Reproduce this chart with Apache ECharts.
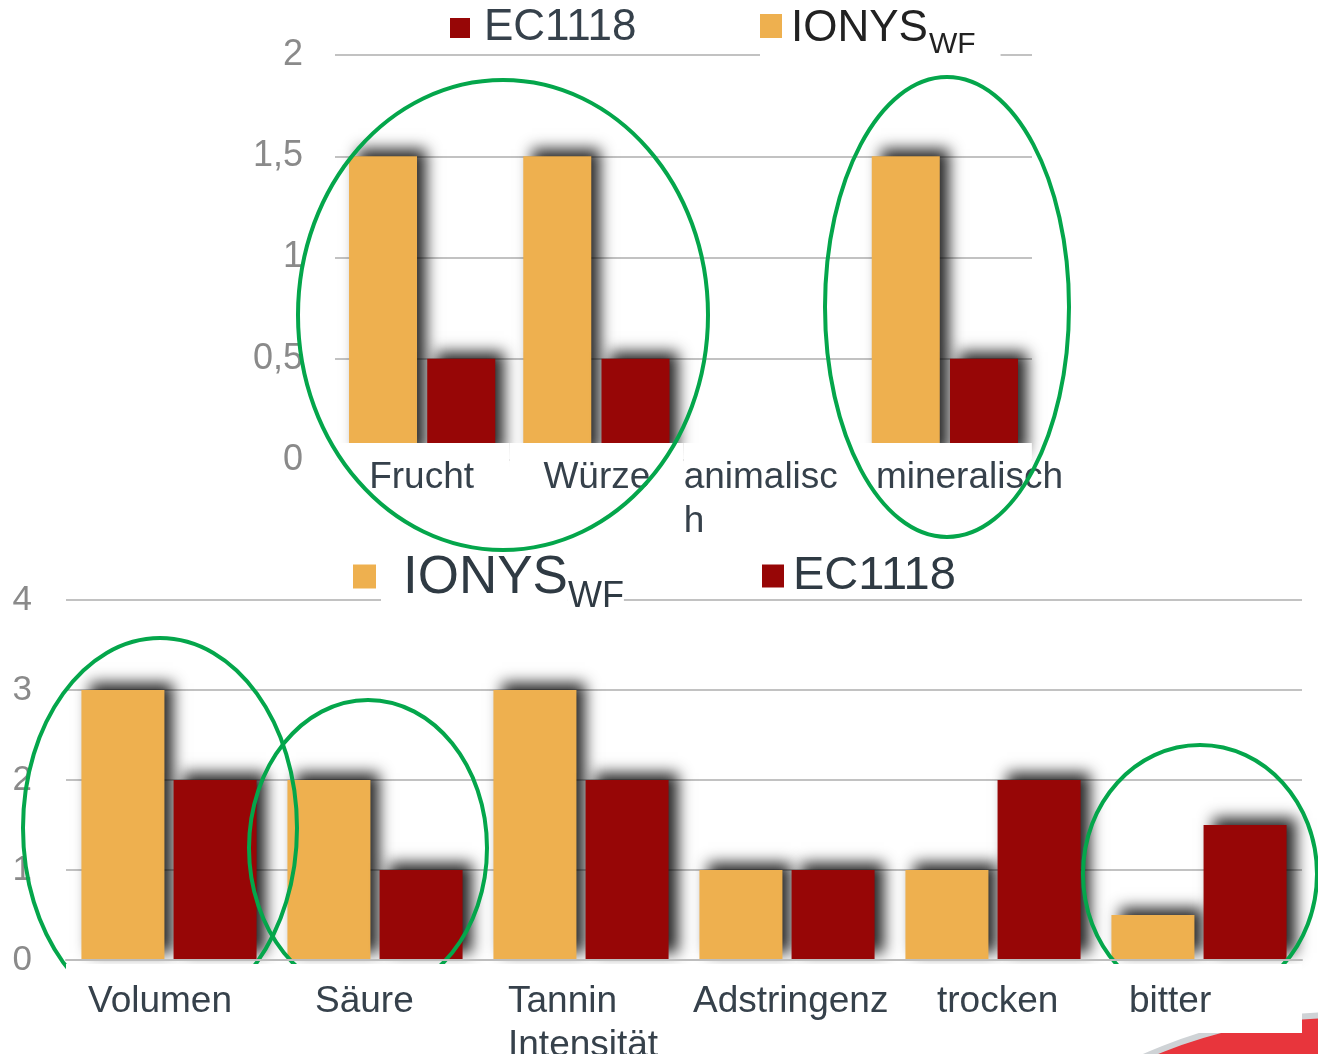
<!DOCTYPE html>
<html>
<head>
<meta charset="utf-8">
<script src="https://cdn.jsdelivr.net/npm/echarts@6/dist/echarts.min.js"></script>
<style>
  html, body { margin: 0; padding: 0; background: #fff; }
  #chart { width: 1318px; height: 1054px; }
</style>
</head>
<body>
<div id="chart"></div>
<script>
// Aroma panel (top)
const aromaCategories = ['Frucht', 'Würze', 'animalisch', 'mineralisch'];
const aromaIonys = [1.5, 1.5, 0, 1.5];
const aromaEc1118 = [0.5, 0.5, 0, 0.5];
const aromaTicks = [0, 0.5, 1, 1.5, 2];

// Mouthfeel panel (bottom)
const tasteCategories = ['Volumen', 'Säure', 'Tannin Intensität', 'Adstringenz', 'trocken', 'bitter'];
const tasteIonys = [3, 2, 3, 1, 1, 0.5];
const tasteEc1118 = [2, 1, 2, 1, 2, 1.5];
const tasteTicks = [0, 1, 2, 3, 4];

// Strain names
const strainA = 'IONYS';
const strainASub = 'WF';
const strainAName = strainA + ' ' + strainASub;
const strainB = 'EC1118';

// how long category names are split over lines
const labelBreaks = {
  'animalisch': ['animalisc', 'h'],
  'Tannin Intensität': ['Tannin', 'Intensität']
};

// left inset of each category text inside its white label box
const aromaLabelInset = [34, 34, 0, 18];
const tasteLabelInset = [22, 43, 30, 9, 47, 33];

const FONT = '"Liberation Sans", Arial, sans-serif';
const ORANGE = '#EEB04F';
const DARKRED = '#970606';
const LABEL_COLOR = '#36414b';
const TICK_COLOR = '#8a8a8a';
const GRID_LINE = '#c2c2c2';

const barShadow = {
  shadowBlur: 14,
  shadowColor: 'rgba(0,0,0,0.85)',
  shadowOffsetX: 9,
  shadowOffsetY: -7
};

// green hand-drawn highlight rings
const highlightRings = [
  { cx: 503, cy: 315, rx: 205, ry: 235 },
  { cx: 947, cy: 307, rx: 122, ry: 230 },
  { cx: 160, cy: 828, rx: 137, ry: 190 },
  { cx: 368, cy: 848, rx: 119, ry: 148 },
  { cx: 1200, cy: 874, rx: 117, ry: 129 }
];

const chart = echarts.init(document.getElementById('chart'), null, { renderer: 'canvas' });

function commaFormat(v) {
  return String(v).replace('.', ',');
}

function insetRich(insets) {
  const rich = {};
  insets.forEach((p, i) => {
    rich['t' + i] = {
      align: 'left', padding: [0, 0, 0, p],
      fontSize: 37, lineHeight: 44, fontFamily: FONT, color: LABEL_COLOR
    };
  });
  return rich;
}

function insetFormatter(v, i) {
  const lines = labelBreaks[v] || [v];
  return lines.map(line => '{t' + i + '|' + line + '}').join('\n');
}

const option = {
  animation: false,
  backgroundColor: '#fff',
  textStyle: { fontFamily: FONT },
  grid: [
    { left: 335, top: 55, width: 697, height: 405, outerBoundsMode: 'none', containLabel: false },
    { left: 66, top: 600, width: 1236, height: 360, outerBoundsMode: 'none', containLabel: false }
  ],
  legend: [
    {
      data: [strainB], left: 450, top: 2, padding: 0,
      icon: 'rect', itemWidth: 20, itemHeight: 20, selectedMode: false,
      textStyle: { fontSize: 44, lineHeight: 46, color: LABEL_COLOR, fontFamily: FONT, padding: [6, 0, 0, 9] }
    },
    {
      data: [strainAName], left: 760, top: -8, padding: [0, 25, 0, 0],
      backgroundColor: '#fff',
      icon: 'rect', itemWidth: 22, itemHeight: 24, selectedMode: false,
      formatter: () => '{main|' + strainA + '}{sub|' + strainASub + '}',
      textStyle: {
        rich: {
          main: { fontSize: 44, lineHeight: 44, color: '#222', fontFamily: FONT, padding: [15, 0, 9, 4] },
          sub: { fontSize: 30, lineHeight: 30, color: '#222', fontFamily: FONT, padding: [38, 0, 0, 1] }
        }
      }
    },
    {
      data: [strainAName], left: 353, top: 538, padding: 0,
      icon: 'rect', itemWidth: 23, itemHeight: 24, selectedMode: false,
      formatter: () => '{main|' + strainA + '}{sub|' + strainASub + '}',
      textStyle: {
        rich: {
          main: { fontSize: 53, lineHeight: 53, color: '#2f3a43', fontFamily: FONT, padding: [14, 0, 10, 22], backgroundColor: '#fff' },
          sub: { fontSize: 36, lineHeight: 36, color: '#2f3a43', fontFamily: FONT, padding: [41, 0, 0, 0], backgroundColor: '#fff' }
        }
      }
    },
    {
      data: [strainB], left: 762, top: 547, padding: 0,
      icon: 'rect', itemWidth: 22, itemHeight: 23, selectedMode: false,
      textStyle: { fontSize: 47, lineHeight: 50, color: '#2f3a43', fontFamily: FONT, padding: [8, 0, 0, 4] }
    }
  ],
  xAxis: [
    {
      type: 'category', gridIndex: 0, data: aromaCategories, z: 3,
      axisLine: { show: false }, axisTick: { show: false },
      axisLabel: {
        interval: 0, fontSize: 37, fontFamily: FONT, color: LABEL_COLOR, lineHeight: 44,
        margin: -17, padding: [13, 0, 7, 0], width: 174, backgroundColor: '#fff',
        formatter: insetFormatter,
        rich: insetRich(aromaLabelInset)
      }
    },
    {
      type: 'category', gridIndex: 1, data: tasteCategories, z: 20,
      axisLine: { show: true, lineStyle: { color: '#bdbdbd', width: 2 } },
      axisTick: { show: false },
      axisLabel: {
        interval: 0, fontSize: 37, fontFamily: FONT, color: LABEL_COLOR, lineHeight: 44,
        margin: 4, padding: [16, 0, 9, 0], width: 206, backgroundColor: '#fff',
        formatter: insetFormatter,
        rich: insetRich(tasteLabelInset)
      }
    }
  ],
  yAxis: [
    {
      type: 'value', gridIndex: 0,
      min: aromaTicks[0], max: aromaTicks[aromaTicks.length - 1], interval: aromaTicks[1] - aromaTicks[0],
      axisLine: { show: false }, axisTick: { show: false },
      axisLabel: { fontSize: 36, fontFamily: FONT, color: TICK_COLOR, margin: 32, formatter: commaFormat },
      splitLine: { show: true, lineStyle: { color: GRID_LINE, width: 2 } }
    },
    {
      type: 'value', gridIndex: 1,
      min: tasteTicks[0], max: tasteTicks[tasteTicks.length - 1], interval: tasteTicks[1] - tasteTicks[0],
      axisLine: { show: false }, axisTick: { show: false },
      axisLabel: { fontSize: 35, fontFamily: FONT, color: TICK_COLOR, margin: 34 },
      splitLine: { show: true, lineStyle: { color: GRID_LINE, width: 2 } }
    }
  ],
  series: [
    {
      name: strainAName, type: 'bar', xAxisIndex: 0, yAxisIndex: 0, data: aromaIonys,
      barWidth: 68, barGap: '15%', itemStyle: Object.assign({ color: ORANGE }, barShadow)
    },
    {
      name: strainB, type: 'bar', xAxisIndex: 0, yAxisIndex: 0, data: aromaEc1118,
      barWidth: 68, barGap: '15%', itemStyle: Object.assign({ color: DARKRED }, barShadow)
    },
    {
      name: strainAName, type: 'bar', xAxisIndex: 1, yAxisIndex: 1, data: tasteIonys,
      barWidth: 83, barGap: '11%', itemStyle: Object.assign({ color: ORANGE }, barShadow)
    },
    {
      name: strainB, type: 'bar', xAxisIndex: 1, yAxisIndex: 1, data: tasteEc1118,
      barWidth: 83, barGap: '11%', itemStyle: Object.assign({ color: DARKRED }, barShadow)
    }
  ],
  graphic: [
    {
      type: 'circle', silent: true, z: 5,
      shape: { cx: 1340, cy: 1495, r: 480 },
      style: { fill: '#e8353c', stroke: '#cfd3d6', lineWidth: 6 }
    }
  ].concat(highlightRings.map(r => ({
    type: 'ellipse', silent: true, z: 10,
    shape: { cx: r.cx, cy: r.cy, rx: r.rx, ry: r.ry },
    style: { fill: 'none', stroke: '#04a64b', lineWidth: 4 }
  })))
};

chart.setOption(option);
</script>
</body>
</html>
